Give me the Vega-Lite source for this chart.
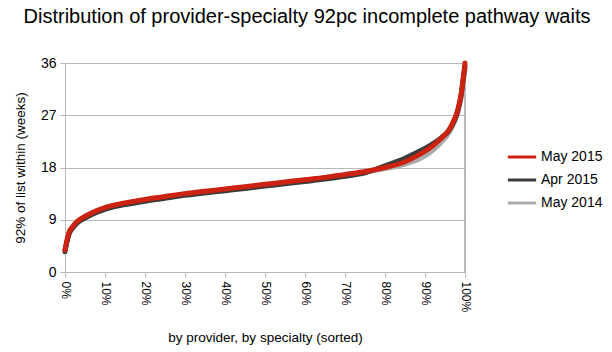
{
  "$schema": "https://vega.github.io/schema/vega-lite/v6.json",
  "width": 400,
  "height": 209,
  "autosize": "none",
  "padding": {"left": 65, "top": 63, "right": 147, "bottom": 80},
  "background": "white",
  "title": {"text": "Distribution of provider-specialty 92pc incomplete pathway waits", "fontSize": 20, "font": "Liberation Sans", "fontWeight": "normal", "color": "black", "anchor": "middle", "frame": "group", "dx": 42, "offset": 26},
  "config": {
    "font": "Liberation Sans",
    "view": {"stroke": null},
    "axis": {"labelColor": "black", "titleColor": "black", "titleFontWeight": "normal", "gridColor": "#b8b8b8", "domainColor": "#b8b8b8", "tickColor": "#b8b8b8", "tickSize": 5}
  },
  "data": {"values": [
    {"series":"May 2014","pct":0,"weeks":3.7},{"series":"May 2014","pct":0.5,"weeks":5.4},{"series":"May 2014","pct":1,"weeks":6.7},{"series":"May 2014","pct":2,"weeks":7.9},{"series":"May 2014","pct":3,"weeks":8.6},{"series":"May 2014","pct":4,"weeks":9.1},{"series":"May 2014","pct":5,"weeks":9.5},{"series":"May 2014","pct":7,"weeks":10.2},{"series":"May 2014","pct":10,"weeks":11.0},{"series":"May 2014","pct":15,"weeks":11.8},{"series":"May 2014","pct":20,"weeks":12.4},{"series":"May 2014","pct":25,"weeks":12.9},{"series":"May 2014","pct":30,"weeks":13.4},{"series":"May 2014","pct":35,"weeks":13.8},{"series":"May 2014","pct":40,"weeks":14.2},{"series":"May 2014","pct":45,"weeks":14.6},{"series":"May 2014","pct":50,"weeks":15.0},{"series":"May 2014","pct":55,"weeks":15.4},{"series":"May 2014","pct":60,"weeks":15.8},{"series":"May 2014","pct":65,"weeks":16.2},{"series":"May 2014","pct":70,"weeks":16.7},{"series":"May 2014","pct":75,"weeks":17.2},{"series":"May 2014","pct":80,"weeks":17.8},{"series":"May 2014","pct":85,"weeks":18.6},{"series":"May 2014","pct":88,"weeks":19.3},{"series":"May 2014","pct":90,"weeks":20.0},{"series":"May 2014","pct":92,"weeks":21.0},{"series":"May 2014","pct":94,"weeks":22.3},{"series":"May 2014","pct":96,"weeks":24.0},{"series":"May 2014","pct":97,"weeks":25.3},{"series":"May 2014","pct":98,"weeks":27.0},{"series":"May 2014","pct":98.5,"weeks":28.4},{"series":"May 2014","pct":99,"weeks":30.0},{"series":"May 2014","pct":99.5,"weeks":32.5},{"series":"May 2014","pct":100,"weeks":35.0},
    {"series":"Apr 2015","pct":0,"weeks":3.5},{"series":"Apr 2015","pct":0.5,"weeks":5.2},{"series":"Apr 2015","pct":1,"weeks":6.5},{"series":"Apr 2015","pct":2,"weeks":7.6},{"series":"Apr 2015","pct":3,"weeks":8.4},{"series":"Apr 2015","pct":4,"weeks":8.9},{"series":"Apr 2015","pct":5,"weeks":9.3},{"series":"Apr 2015","pct":7,"weeks":10.0},{"series":"Apr 2015","pct":10,"weeks":10.8},{"series":"Apr 2015","pct":15,"weeks":11.6},{"series":"Apr 2015","pct":20,"weeks":12.2},{"series":"Apr 2015","pct":25,"weeks":12.7},{"series":"Apr 2015","pct":30,"weeks":13.2},{"series":"Apr 2015","pct":35,"weeks":13.6},{"series":"Apr 2015","pct":40,"weeks":14.0},{"series":"Apr 2015","pct":45,"weeks":14.4},{"series":"Apr 2015","pct":50,"weeks":14.8},{"series":"Apr 2015","pct":55,"weeks":15.2},{"series":"Apr 2015","pct":60,"weeks":15.6},{"series":"Apr 2015","pct":65,"weeks":16.0},{"series":"Apr 2015","pct":70,"weeks":16.5},{"series":"Apr 2015","pct":75,"weeks":17.1},{"series":"Apr 2015","pct":80,"weeks":18.3},{"series":"Apr 2015","pct":85,"weeks":19.6},{"series":"Apr 2015","pct":88,"weeks":20.6},{"series":"Apr 2015","pct":90,"weeks":21.3},{"series":"Apr 2015","pct":92,"weeks":22.1},{"series":"Apr 2015","pct":94,"weeks":23.1},{"series":"Apr 2015","pct":96,"weeks":24.4},{"series":"Apr 2015","pct":97,"weeks":25.6},{"series":"Apr 2015","pct":98,"weeks":27.3},{"series":"Apr 2015","pct":98.5,"weeks":28.6},{"series":"Apr 2015","pct":99,"weeks":30.3},{"series":"Apr 2015","pct":99.5,"weeks":33.0},{"series":"Apr 2015","pct":100,"weeks":35.5},
    {"series":"May 2015","pct":0,"weeks":3.8},{"series":"May 2015","pct":0.5,"weeks":5.5},{"series":"May 2015","pct":1,"weeks":6.8},{"series":"May 2015","pct":2,"weeks":7.9},{"series":"May 2015","pct":3,"weeks":8.7},{"series":"May 2015","pct":4,"weeks":9.2},{"series":"May 2015","pct":5,"weeks":9.6},{"series":"May 2015","pct":7,"weeks":10.3},{"series":"May 2015","pct":10,"weeks":11.1},{"series":"May 2015","pct":15,"weeks":11.9},{"series":"May 2015","pct":20,"weeks":12.5},{"series":"May 2015","pct":25,"weeks":13.0},{"series":"May 2015","pct":30,"weeks":13.5},{"series":"May 2015","pct":35,"weeks":13.9},{"series":"May 2015","pct":40,"weeks":14.3},{"series":"May 2015","pct":45,"weeks":14.7},{"series":"May 2015","pct":50,"weeks":15.1},{"series":"May 2015","pct":55,"weeks":15.5},{"series":"May 2015","pct":60,"weeks":15.9},{"series":"May 2015","pct":65,"weeks":16.3},{"series":"May 2015","pct":70,"weeks":16.8},{"series":"May 2015","pct":75,"weeks":17.3},{"series":"May 2015","pct":80,"weeks":18.0},{"series":"May 2015","pct":85,"weeks":19.0},{"series":"May 2015","pct":88,"weeks":20.0},{"series":"May 2015","pct":90,"weeks":20.8},{"series":"May 2015","pct":92,"weeks":21.8},{"series":"May 2015","pct":94,"weeks":23.0},{"series":"May 2015","pct":96,"weeks":24.5},{"series":"May 2015","pct":97,"weeks":25.8},{"series":"May 2015","pct":98,"weeks":27.5},{"series":"May 2015","pct":98.5,"weeks":28.8},{"series":"May 2015","pct":99,"weeks":30.5},{"series":"May 2015","pct":99.5,"weeks":33.0},{"series":"May 2015","pct":100,"weeks":36.0}
  ]},
  "encoding": {
    "x": {"field": "pct", "type": "quantitative", "scale": {"domain": [0, 100], "nice": false},
      "axis": {"values": [0,10,20,30,40,50,60,70,80,90,100], "labelExpr": "datum.value + '%'", "labelAngle": 90, "labelAlign": "left", "labelBaseline": "middle", "labelFontSize": 12, "labelPadding": 4, "grid": false, "title": "by provider, by specialty (sorted)", "titleFontSize": 13.5, "titlePadding": 19}},
    "y": {"field": "weeks", "type": "quantitative", "scale": {"domain": [0, 36], "nice": false},
      "axis": {"values": [0,9,18,27,36], "labelFontSize": 14, "labelPadding": 4, "title": "92% of list within (weeks)", "titleFontSize": 13.5, "titlePadding": 13, "domain": true}},
    "color": {"field": "series", "type": "nominal",
      "scale": {"domain": ["May 2015", "Apr 2015", "May 2014"], "range": ["#cc2211", "#3b3b3b", "#ababab"]},
      "legend": {"title": null, "orient": "none", "legendX": 441, "legendY": 78, "symbolType": "stroke", "symbolSize": 800, "symbolStrokeWidth": 3, "labelFontSize": 14, "labelColor": "black", "rowPadding": -8, "labelOffset": 3}}
  },
  "layer": [
    {"mark": {"type": "rule", "color": "#b8b8b8", "strokeWidth": 1}, "encoding": {"x": {"datum": 100}, "y": null, "color": null}},
    {"transform": [{"filter": "datum.series == 'May 2014'"}], "mark": {"type": "line", "strokeWidth": 5, "strokeCap": "round", "interpolate": "monotone"}},
    {"transform": [{"filter": "datum.series == 'Apr 2015'"}], "mark": {"type": "line", "strokeWidth": 5, "strokeCap": "round", "interpolate": "monotone"}},
    {"transform": [{"filter": "datum.series == 'May 2015'"}], "mark": {"type": "line", "strokeWidth": 5, "strokeCap": "round", "interpolate": "monotone"}}
  ]
}
